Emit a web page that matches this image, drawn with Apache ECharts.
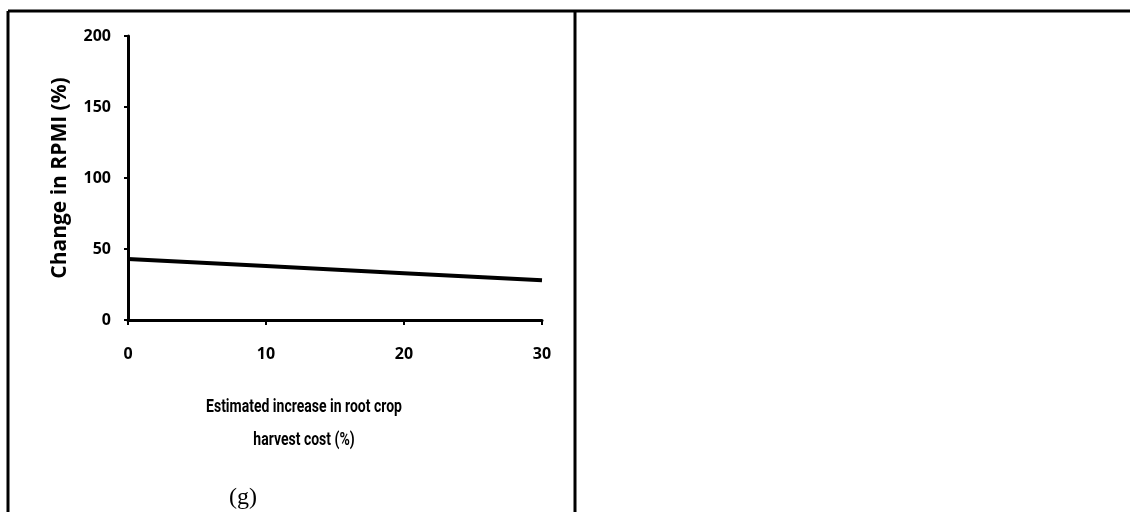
<!DOCTYPE html>
<html>
<head>
<meta charset="utf-8">
<script src="https://cdn.jsdelivr.net/npm/echarts@6/dist/echarts.min.js"></script>
<style>
  html, body { margin: 0; padding: 0; background: #fff; }
  #chart { width: 1130px; height: 512px; }
</style>
</head>
<body>
<div id="chart"></div>
<script>
// Harvest cost increase (%) vs change in RPMI (%)
const costIncrease = [0, 10, 20, 30];
const rpmiChange = [43, 38, 33, 28];
const xTicks = { min: 0, max: 30, step: 10 };
const yTicks = { min: 0, max: 200, step: 50 };
const xTitle = ['Estimated increase in root crop', 'harvest cost (%)'];
const yTitle = 'Change in RPMI (%)';
const panelLabel = '(g)';

const sansFont = '"Open Sans", sans-serif';
const titleFont = 'Roboto, "Open Sans", sans-serif';

const chart = echarts.init(document.getElementById('chart'), null, { renderer: 'canvas' });

chart.setOption({
  backgroundColor: '#ffffff',
  animation: false,
  grid: { left: 128, top: 36, right: 588, bottom: 192, containLabel: false },
  xAxis: {
    type: 'value',
    min: xTicks.min, max: xTicks.max, interval: xTicks.step,
    splitLine: { show: false },
    axisLine: { lineStyle: { color: '#000', width: 3 } },
    axisTick: { length: 5, lineStyle: { color: '#000', width: 2 } },
    axisLabel: { margin: 26, color: '#000', fontWeight: 'bold', fontSize: 16, fontFamily: sansFont }
  },
  yAxis: {
    type: 'value',
    min: yTicks.min, max: yTicks.max, interval: yTicks.step,
    splitLine: { show: false },
    axisLine: { show: true, lineStyle: { color: '#000', width: 3 } },
    axisTick: { show: true, length: 4, lineStyle: { color: '#000', width: 2 } },
    axisLabel: { margin: 17, color: '#000', fontWeight: 'bold', fontSize: 16, fontFamily: sansFont },
    name: yTitle,
    nameLocation: 'middle',
    nameRotate: 90,
    nameGap: 57,
    nameTextStyle: { color: '#000', fontWeight: 'bold', fontSize: 21, fontFamily: sansFont }
  },
  series: [{
    type: 'line',
    data: costIncrease.map((x, i) => [x, rpmiChange[i]]),
    showSymbol: false,
    lineStyle: { color: '#000', width: 4 },
    z: 1
  }],
  graphic: [
    // table cell borders
    { type: 'line', shape: { x1: 8, y1: 11, x2: 1130, y2: 11 }, style: { stroke: '#000', lineWidth: 3 } },
    { type: 'line', shape: { x1: 8, y1: 11, x2: 8, y2: 512 }, style: { stroke: '#000', lineWidth: 3 } },
    { type: 'line', shape: { x1: 575, y1: 11, x2: 575, y2: 512 }, style: { stroke: '#000', lineWidth: 3 } },
    // x-axis title, two lines, in a tall narrow face
    {
      type: 'text', x: 304, y: 424, scaleX: 1, scaleY: 1.25,
      style: {
        text: xTitle.join('\n'), fill: '#000', align: 'center', verticalAlign: 'middle',
        font: 'bold 14px ' + titleFont, lineHeight: 26
      }
    },
    // panel letter
    {
      type: 'text', x: 243, y: 498,
      style: {
        text: panelLabel, fill: '#000', align: 'center', verticalAlign: 'middle',
        font: '24px "Liberation Serif", "Times New Roman", serif'
      }
    }
  ]
});
</script>
</body>
</html>
